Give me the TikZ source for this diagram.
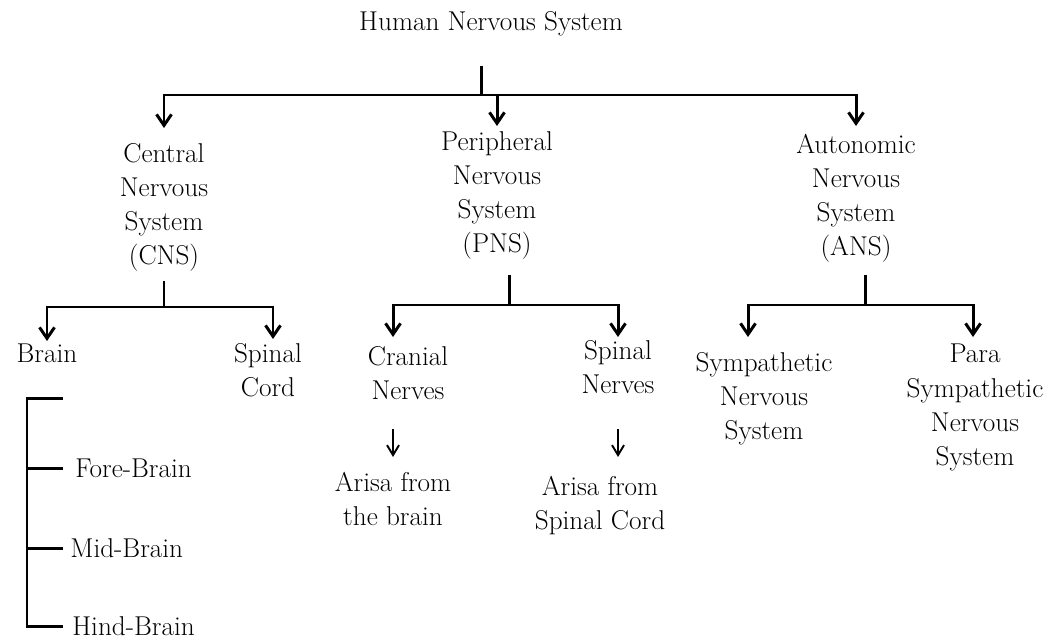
\documentclass[tikz,border=0pt]{standalone}
\usepackage{fontspec}
\usepackage{tikz}
\usetikzlibrary{positioning,calc,arrows.meta}

\begin{document}
\begin{tikzpicture}[
    x=0.02cm, y=-0.02cm,
    lbl/.style={align=center, anchor=north, inner sep=0pt,
                font=\fontsize{15.5}{19.4}\selectfont},
    leaf/.style={anchor=west, inner sep=0pt, font=\fontsize{15.5}{19.4}\selectfont},
    conn/.style={line width=1.7pt},
    arrow/.style={conn, -{Straight Barb[length=0.22cm, width=0.3cm]}},
    thinarrow/.style={line width=1.1pt, -{Straight Barb[length=0.2cm, width=0.24cm]}}
]
    \useasboundingbox (0,0) rectangle (1050,639);

    % Top level
    \node[lbl] (hns) at (491,11) {Human Nervous System};
    \node[lbl] (cns) at (164,143) {Central\\Nervous\\System\\(CNS)};
    \node[lbl] (pns) at (497,131) {Peripheral\\Nervous\\System\\(PNS)};
    \node[lbl] (ans) at (856,134) {Autonomic\\Nervous\\System\\(ANS)};

    % Second level
    \node[lbl] (brain) at (47,344) {Brain};
    \node[lbl] (scord) at (268,343) {Spinal\\Cord};
    \node[lbl] (cranial) at (408,346) {Cranial\\Nerves};
    \node[lbl] (snerves) at (618,340) {Spinal\\Nerves};
    \node[lbl] (symp) at (764,352) {Sympathetic\\Nervous\\System};
    \node[lbl] (para) at (975,344) {Para\\Sympathetic\\Nervous\\System};

    % Where the nerves arise
    \node[lbl] (fromcranial) at (393,472) {Arisa from\\the brain};
    \node[lbl] (fromspinal) at (600,476) {Arisa from\\Spinal Cord};

    % Parts of the brain
    \node[leaf] (fore) at (75,468) {Fore-Brain};
    \node[leaf] (mid) at (70,548) {Mid-Brain};
    \node[leaf] (hind) at (72,626) {Hind-Brain};

    % Forks
    \coordinate (hub) at (481,95);
    \coordinate (cns-fork) at (164,307);
    \coordinate (pns-fork) at (509,305);
    \coordinate (ans-fork) at (865,305);

    \draw[conn, shorten <=0.6cm] (hub |- hns.south) -- (hub);
    \draw[arrow, shorten >=0.3cm] (hub) -| (cns);
    \draw[arrow, shorten >=0.1cm] (hub -| pns) -- (pns);
    \draw[arrow, shorten >=0.16cm] (hub) -| (ans);

    \draw[conn, shorten <=0.18cm] (cns) -- (cns-fork);
    \draw[arrow, shorten >=0.06cm] (cns-fork) -| (brain);
    \draw[arrow, shorten >=0.08cm] (cns-fork) -| ([xshift=0.1cm]scord.north);

    \draw[conn, shorten <=0.3cm] (pns-fork |- pns.south) -- (pns-fork);
    \draw[arrow, shorten >=0.18cm] (pns-fork) -| ([xshift=-0.3cm]cranial.north);
    \draw[arrow, shorten >=0.06cm] (pns-fork) -| (snerves);

    \draw[conn, shorten <=0.24cm] (ans-fork |- ans.south) -- (ans-fork);
    \draw[arrow, shorten >=0.3cm] (ans-fork) -| ([xshift=-0.32cm]symp.north);
    \draw[arrow, shorten >=0.14cm] (ans-fork) -| ([xshift=-0.04cm]para.north);

    % Short arrows
    \draw[thinarrow, shorten <=0.58cm, shorten >=0.3cm] (fromcranial.north |- cranial.south) -- (fromcranial);
    \draw[thinarrow, shorten <=0.7cm, shorten >=0.38cm] (snerves) -- (snerves.south |- fromspinal.north);

    % Bracket for the brain
    \coordinate (brk) at (27,398);
    \coordinate (brk-end) at (63,398);
    \draw[conn] (brk-end) -- (brk) -- (brk |- hind.west) -- (brk-end |- hind.west);
    \draw[conn] (brk |- fore.west) -- (brk-end |- fore.west);
    \draw[conn] (brk |- mid.west) -- (brk-end |- mid.west);
\end{tikzpicture}
\end{document}
